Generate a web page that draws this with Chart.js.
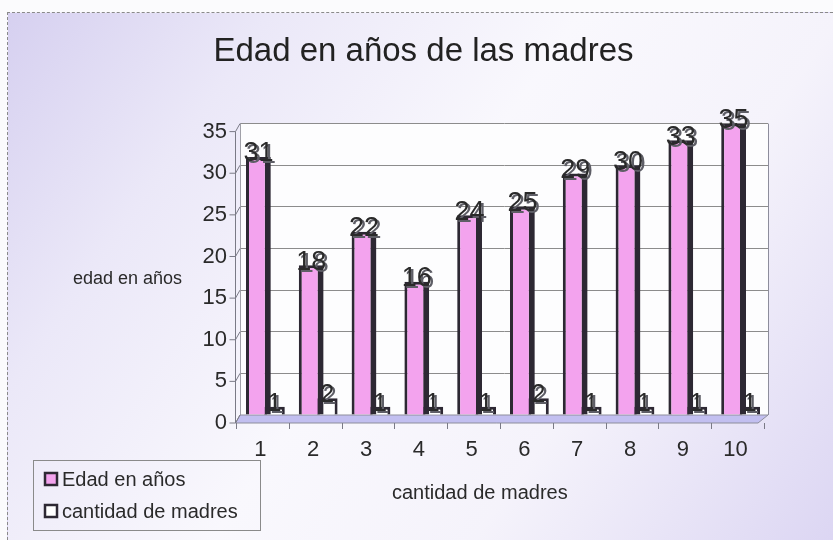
<!DOCTYPE html>
<html>
<head>
<meta charset="utf-8">
<script src="https://cdn.jsdelivr.net/npm/chart.js@4.4.0/dist/chart.umd.min.js"></script>
<style>
  html, body { margin: 0; padding: 0; background: #fbfbfd; }
  #wrap { position: relative; width: 833px; height: 540px; }
  #frame {
    position: absolute; left: 7px; top: 12px; right: 0; bottom: 0;
    border-top: 1px dashed #8a8a8a; border-left: 1px dashed #8a8a8a;
    background: linear-gradient(125deg, #d6d0f0 0%, #ebe8f8 22%, #f9f8fd 48%, #f5f3fb 70%, #dcd6f3 100%);
  }
  canvas { position: absolute; left: 0; top: 0; }
</style>
</head>
<body>
<div id="wrap">
  <div id="frame"></div>
  <canvas id="edadChart" width="833" height="540"></canvas>
</div>
<script>
const categorias = ["1", "2", "3", "4", "5", "6", "7", "8", "9", "10"];
const edadEnAnos = [31, 18, 22, 16, 24, 25, 29, 30, 33, 35];
const cantidadMadres = [1, 2, 1, 1, 1, 2, 1, 1, 1, 1];
const yMax = 35;
const yPaso = 5;

const fuente = "'Liberation Sans', Arial, sans-serif";
const textoOscuro = "#2a2a2a";
const bordeBarra = "#2d2833";

// fondo blanco del area, piso lila y eje frontal (imitando el 3D de Excel)
const decorado = {
  id: "decorado",
  beforeDraw(chart) {
    const { ctx, chartArea: a } = chart;
    ctx.save();
    ctx.fillStyle = "#fdfdfe";
    ctx.fillRect(a.left, a.top, a.right - a.left, a.bottom - a.top);
    ctx.restore();
  },
  beforeDatasetsDraw(chart) {
    const { ctx, chartArea: a, scales } = chart;
    const y = scales.y;
    const x = scales.x;
    const frente = a.bottom + 8;
    const ax = a.left - 4.5;
    ctx.save();
    ctx.lineWidth = 1;
    ctx.strokeStyle = "#8d8d9c";
    ctx.fillStyle = "#c2bff0";
    ctx.beginPath();
    ctx.moveTo(ax, frente);
    ctx.lineTo(a.right - 10, frente);
    ctx.lineTo(a.right, a.bottom);
    ctx.lineTo(a.left, a.bottom);
    ctx.closePath();
    ctx.fill();
    ctx.stroke();

    ctx.beginPath();
    ctx.moveTo(a.right + 0.5, a.top);
    ctx.lineTo(a.right + 0.5, a.bottom);
    ctx.stroke();

    ctx.strokeStyle = "#7a7a86";
    ctx.beginPath();
    ctx.moveTo(ax, y.getPixelForValue(yMax) + 8);
    ctx.lineTo(ax, frente);
    y.ticks.forEach((t) => {
      const py = y.getPixelForValue(t.value);
      ctx.moveTo(ax - 6, py + 8);
      ctx.lineTo(ax, py + 8);
      ctx.lineTo(a.left, py);
    });
    const medio = (x.getPixelForValue(1) - x.getPixelForValue(0)) / 2;
    for (let i = 0; i <= categorias.length; i++) {
      const px = Math.round(x.getPixelForValue(i) - medio - 4) + 0.5;
      ctx.moveTo(px, frente);
      ctx.lineTo(px, frente + 6);
    }
    ctx.stroke();
    ctx.restore();
  },
  afterDatasetsDraw(chart) {
    const { ctx } = chart;
    ctx.save();
    ctx.textAlign = "center";
    ctx.textBaseline = "middle";
    chart.data.datasets.forEach((ds, i) => {
      const meta = chart.getDatasetMeta(i);
      ctx.font = (i === 0 ? 27 : 25) + "px " + fuente;
      meta.data.forEach((bar, j) => {
        const txt = String(ds.data[j]);
        const ty = bar.y - 3;
        ctx.fillStyle = "#5e5e66";
        ctx.fillText(txt, bar.x + 2.5, ty + 2);
        ctx.fillStyle = textoOscuro;
        ctx.fillText(txt, bar.x, ty);
      });
    });
    ctx.restore();
  },
  afterDraw(chart) {
    const { ctx } = chart;
    ctx.save();
    ctx.fillStyle = textoOscuro;
    ctx.textBaseline = "middle";
    ctx.font = "18px " + fuente;
    ctx.textAlign = "right";
    ctx.fillText("edad en años", 182, 279);
    ctx.font = "20px " + fuente;
    ctx.textAlign = "left";
    ctx.fillText("cantidad de madres", 392, 493);

    // leyenda
    ctx.strokeStyle = "#8a8a8a";
    ctx.lineWidth = 1;
    ctx.strokeRect(33.5, 460.5, 227, 70);
    chart.data.datasets.forEach((ds, i) => {
      const cy = 479 + i * 32;
      ctx.fillStyle = ds.backgroundColor;
      ctx.fillRect(45, cy - 6, 12, 12);
      ctx.strokeStyle = bordeBarra;
      ctx.lineWidth = 2.5;
      ctx.strokeRect(45, cy - 6, 12, 12);
      ctx.fillStyle = textoOscuro;
      ctx.font = "20px " + fuente;
      ctx.fillText(ds.label, 62, cy + 1);
    });
    ctx.restore();
  }
};

const edadChart = new Chart(document.getElementById("edadChart"), {
  type: "bar",
  data: {
    labels: categorias,
    datasets: [
      {
        label: "Edad en años",
        data: edadEnAnos,
        backgroundColor: "#f3a3ee",
        borderColor: bordeBarra,
        borderWidth: { left: 3, right: 6, top: 3, bottom: 0 },
        borderSkipped: false,
        barPercentage: 1.55,
        categoryPercentage: 0.606,
      },
      {
        label: "cantidad de madres",
        data: cantidadMadres,
        backgroundColor: "#ffffff",
        borderColor: bordeBarra,
        borderWidth: { left: 3, right: 3, top: 3, bottom: 0 },
        borderSkipped: false,
        barPercentage: 1.3,
        categoryPercentage: 0.606,
      },
    ],
  },
  options: {
    responsive: false,
    animation: false,
    layout: { padding: { left: 14, right: 0, top: 0, bottom: 0 } },
    plugins: {
      legend: { display: false },
      tooltip: { enabled: false },
      title: {
        display: true,
        text: "Edad en años de las madres",
        color: "#222222",
        font: { family: fuente, size: 33, weight: "normal" },
        padding: { top: 32, bottom: 52 },
      },
    },
    scales: {
      x: {
        grid: { display: false, drawTicks: false },
        border: { display: false },
        ticks: {
          color: textoOscuro,
          font: { family: fuente, size: 22 },
          padding: 22,
          labelOffset: -6,
        },
        afterFit(s) { s.height = 125; },
      },
      y: {
        min: 0,
        max: yMax,
        grid: { color: "#8c8c8c", drawTicks: false },
        border: { display: true, color: "#a0a0a8" },
        ticks: {
          stepSize: yPaso,
          color: textoOscuro,
          font: { family: fuente, size: 22 },
          padding: 13,
          labelOffset: 8,
        },
        afterFit(s) { s.width = 226; },
      },
      derecha: {
        type: "linear",
        position: "right",
        grid: { display: false },
        border: { display: false },
        ticks: { display: false },
        afterFit(s) { s.width = 65; },
      },
    },
  },
  plugins: [decorado],
});
</script>
</body>
</html>
